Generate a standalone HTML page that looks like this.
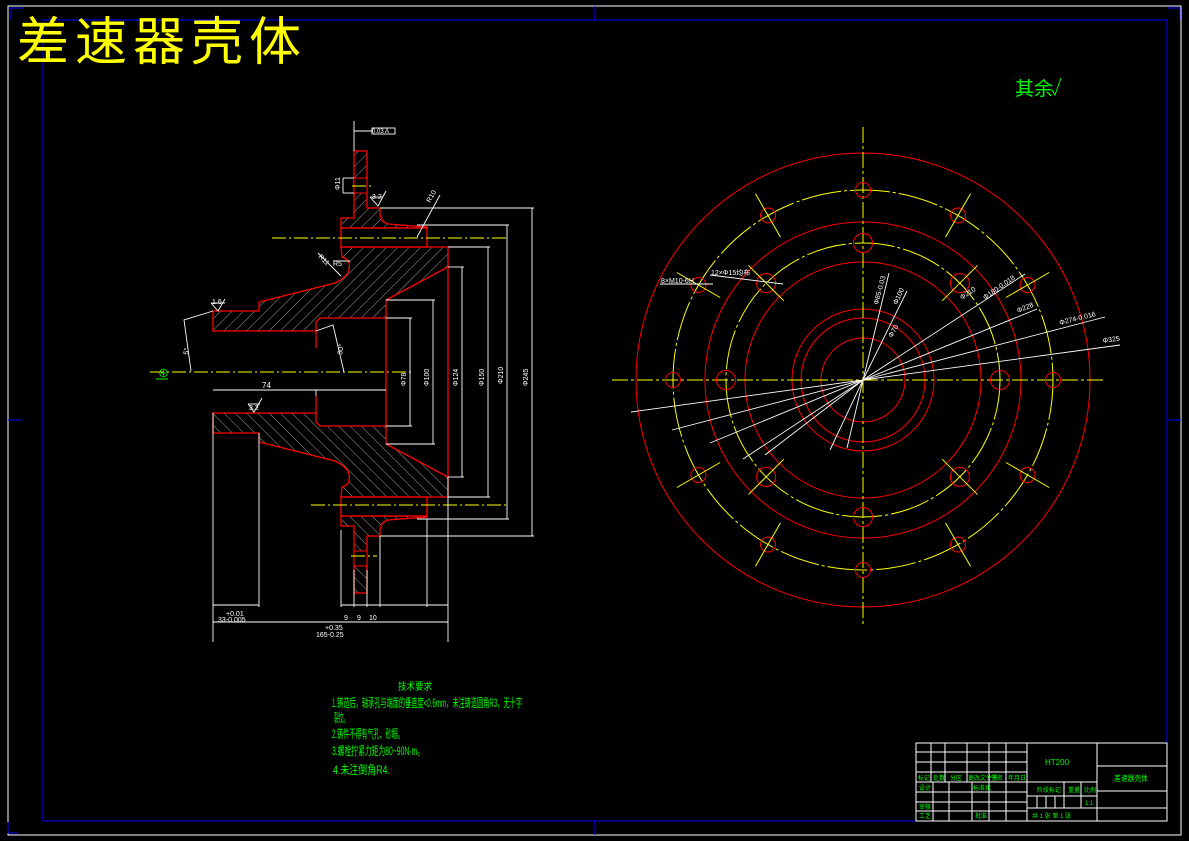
<!DOCTYPE html>
<html><head><meta charset="utf-8"><style>
html,body{margin:0;padding:0;background:#000;}
svg{display:block;}
text{font-family:"Liberation Sans","Noto Sans CJK SC",sans-serif;}
</style></head><body>
<svg width="1189" height="841" viewBox="0 0 1189 841" xmlns="http://www.w3.org/2000/svg">
<defs>
<pattern id="h" width="8" height="8" patternUnits="userSpaceOnUse" patternTransform="rotate(45)">
<line x1="0" y1="0" x2="0" y2="8" stroke="#ddd" stroke-width="0.7"/>
</pattern>
</defs>
<rect width="1189" height="841" fill="#000"/>
<!-- frames -->
<rect x="8" y="6" width="1173" height="829" fill="none" stroke="#fff" stroke-width="1"/>
<rect x="43" y="20" width="1124" height="801" fill="none" stroke="#00f" stroke-width="1"/>
<line x1="595" y1="6" x2="595" y2="20" stroke="#00f"/><line x1="595" y1="821" x2="595" y2="835" stroke="#00f"/>
<line x1="8" y1="420" x2="22" y2="420" stroke="#00f"/><line x1="1167" y1="420" x2="1181" y2="420" stroke="#00f"/>
<polyline points="10,20 10,8 23,8" fill="none" stroke="#00f"/>
<polyline points="1167,8 1180,8 1180,20" fill="none" stroke="#00f"/>
<polyline points="8,822 8,833 18,833" fill="none" stroke="#00f"/>

<text x="17" y="60" font-size="52" fill="#ff0" letter-spacing="6" font-family="'Liberation Sans','Noto Sans CJK SC',sans-serif">差速器壳体</text>
<text x="1015" y="95" font-size="19" fill="#0f0">其余</text>
<polyline points="1052,90 1055,95 1061,78" fill="none" stroke="#0f0"/>

<!-- ===== LEFT SECTION VIEW ===== -->
<g>
<path d="M341,247 L448,247 L448,267 L386,300 L386,318 L320,318 L316,322 L316,331 L213,331 L213,311 L259,311 L259,302 L335,283 Q352,275 349,263 Q347,258 342,257 Z" fill="url(#h)" stroke="#f00" stroke-width="1.3"/>
<path d="M354,151 L367,151 L367,208 L380,208 L380,214 Q381,222 388,224 L427,227 L427,228 L341,228 L341,218 L354,218 Z" fill="url(#h)" stroke="#f00" stroke-width="1.3"/>
<rect x="341" y="228" width="86" height="19" fill="#000" stroke="#f00" stroke-width="1.3"/>
<rect x="354.5" y="178.5" width="12" height="14" fill="#000"/>
<line x1="354" y1="178" x2="367" y2="178" stroke="#f00"/><line x1="354" y1="193" x2="367" y2="193" stroke="#f00"/>
</g>
<g transform="translate(0,744) scale(1,-1)">
<path d="M341,247 L448,247 L448,267 L386,300 L386,318 L320,318 L316,322 L316,331 L213,331 L213,311 L259,311 L259,302 L335,283 Q352,275 349,263 Q347,258 342,257 Z" fill="url(#h)" stroke="#f00" stroke-width="1.3"/>
<path d="M354,151 L367,151 L367,208 L380,208 L380,214 Q381,222 388,224 L427,227 L427,228 L341,228 L341,218 L354,218 Z" fill="url(#h)" stroke="#f00" stroke-width="1.3"/>
<rect x="341" y="228" width="86" height="19" fill="#000" stroke="#f00" stroke-width="1.3"/>
<rect x="354.5" y="178.5" width="12" height="14" fill="#000"/>
<line x1="354" y1="178" x2="367" y2="178" stroke="#f00"/><line x1="354" y1="193" x2="367" y2="193" stroke="#f00"/>
</g>
<g stroke="#f00" stroke-width="1.3">
<line x1="386" y1="318" x2="386" y2="426"/>
<line x1="448" y1="267" x2="448" y2="477"/>
<line x1="316" y1="331" x2="316" y2="348"/><line x1="316" y1="396" x2="316" y2="413"/>
</g>
<!-- centerlines -->
<g stroke="#ff0" stroke-width="1" stroke-dasharray="14,3,2,3">
<line x1="150" y1="372" x2="412" y2="372"/>
<line x1="272" y1="238" x2="506" y2="238"/>
<line x1="311" y1="505" x2="506" y2="505"/>
<line x1="352" y1="186" x2="373" y2="186"/>
<line x1="351" y1="556" x2="377" y2="556"/>
</g>
<text x="158" y="377" font-size="11" fill="#0f0">⊕</text>
<line x1="156" y1="379" x2="168" y2="379" stroke="#0f0"/>
<!-- dims white -->
<g stroke="#fff" stroke-width="0.9" fill="none">
<line x1="354" y1="121" x2="354" y2="151"/>
<line x1="354" y1="131" x2="372" y2="131"/>
<rect x="372" y="128" width="23" height="6"/>
<line x1="343" y1="178" x2="343" y2="193"/>
<line x1="343" y1="178" x2="354" y2="178"/><line x1="343" y1="193" x2="354" y2="193"/>
<line x1="410" y1="318" x2="410" y2="426"/><line x1="386" y1="318" x2="412" y2="318"/><line x1="386" y1="426" x2="412" y2="426"/>
<line x1="433" y1="300" x2="433" y2="444"/><line x1="386" y1="300" x2="435" y2="300"/><line x1="386" y1="444" x2="435" y2="444"/>
<line x1="462" y1="267" x2="462" y2="477"/><line x1="448" y1="267" x2="464" y2="267"/><line x1="448" y1="477" x2="464" y2="477"/>
<line x1="488" y1="247" x2="488" y2="497"/><line x1="448" y1="247" x2="490" y2="247"/><line x1="448" y1="497" x2="490" y2="497"/>
<line x1="507" y1="225" x2="507" y2="519"/><line x1="417" y1="225" x2="509" y2="225"/><line x1="417" y1="519" x2="509" y2="519"/>
<line x1="532" y1="208" x2="532" y2="536"/><line x1="380" y1="208" x2="534" y2="208"/><line x1="380" y1="536" x2="534" y2="536"/>
<line x1="213" y1="413" x2="213" y2="642"/>
<line x1="259" y1="433" x2="259" y2="607"/>
<line x1="341" y1="530" x2="341" y2="607"/>
<line x1="354" y1="570" x2="354" y2="607"/>
<line x1="367" y1="570" x2="367" y2="607"/>
<line x1="380" y1="536" x2="380" y2="607"/>
<line x1="427" y1="519" x2="427" y2="607"/>
<line x1="448" y1="477" x2="448" y2="642"/>
<line x1="213" y1="605" x2="259" y2="605"/>
<line x1="341" y1="605" x2="448" y2="605"/>
<line x1="213" y1="622" x2="448" y2="622"/>
<line x1="213" y1="390" x2="386" y2="390"/>
<line x1="316" y1="390" x2="316" y2="396"/>
<polyline points="213,311 184,320 191,371"/>
<polyline points="316,331 333,325 344,372"/>
<line x1="417" y1="237" x2="440" y2="195"/>
<line x1="341" y1="276" x2="318" y2="253"/>
<line x1="333" y1="261" x2="350" y2="261"/>
<polyline points="211,303 218,311 225,299"/><line x1="211" y1="303" x2="225" y2="303"/>
<polyline points="370,197 378,206 386,191"/><line x1="370" y1="197" x2="383" y2="197"/>
<polyline points="248,404 254,412 262,398"/><line x1="248" y1="404" x2="260" y2="404"/>
</g>
<g fill="#fff" font-size="7">
<text x="372" y="133" font-size="6">0.03 A</text>
<text x="212" y="304">1.6</text><text x="372" y="199">3.2</text><text x="249" y="410">3.2</text>
<text x="262" y="388" font-size="8">74</text>
<text x="430" y="203" transform="rotate(-60 430 203)">R10</text>
<text x="318" y="257" transform="rotate(45 318 257)">R11</text>
<text x="333" y="266">R5</text>
<text x="188" y="355" transform="rotate(-80 188 355)">5°</text>
<text x="342" y="355" transform="rotate(-80 342 355)">30°</text>
<text x="340" y="190" transform="rotate(-90 340 190)">Φ11</text>
<text x="406" y="386" transform="rotate(-90 406 386)">Φ78</text>
<text x="429" y="386" transform="rotate(-90 429 386)">Φ100</text>
<text x="458" y="386" transform="rotate(-90 458 386)">Φ124</text>
<text x="484" y="386" transform="rotate(-90 484 386)">Φ150</text>
<text x="503" y="384" transform="rotate(-90 503 384)">Φ210</text>
<text x="528" y="386" transform="rotate(-90 528 386)">Φ245</text>
<text x="226" y="616">+0.01</text><text x="218" y="622">33-0.005</text>
<text x="325" y="630">+0.35</text><text x="316" y="637">165-0.25</text>
<text x="344" y="620">9</text><text x="357" y="620">9</text><text x="369" y="620">10</text>
</g>

<!-- ===== RIGHT VIEW ===== -->
<g transform="translate(863,380)" fill="none" stroke-width="1">
<g stroke="#f00">
<circle r="227"/><circle r="158"/><circle r="118"/><circle r="71"/><circle r="62"/><circle r="42"/>
</g>
<g stroke="#ff0" stroke-dasharray="40,3,3,3"><circle r="190"/><circle r="137"/></g>
<g stroke="#ff0" stroke-dasharray="16,3,3,3">
<line x1="-251" y1="0" x2="240" y2="0"/><line x1="0" y1="-253" x2="0" y2="247"/>
</g>
<g stroke="#f00">
<circle cx="190" r="7.5"/><circle cx="-190" r="7.5"/><circle cy="190" r="7.5"/><circle cy="-190" r="7.5"/>
<circle cx="137" r="9.5"/><circle cx="-137" r="9.5"/><circle cy="137" r="9.5"/><circle cy="-137" r="9.5"/>
</g>
<g transform="rotate(30)"><circle cx="190" r="7.5" stroke="#f00"/><line x1="165" x2="215" stroke="#ff0"/></g>
<g transform="rotate(60)"><circle cx="190" r="7.5" stroke="#f00"/><line x1="165" x2="215" stroke="#ff0"/></g>
<g transform="rotate(120)"><circle cx="190" r="7.5" stroke="#f00"/><line x1="165" x2="215" stroke="#ff0"/></g>
<g transform="rotate(150)"><circle cx="190" r="7.5" stroke="#f00"/><line x1="165" x2="215" stroke="#ff0"/></g>
<g transform="rotate(210)"><circle cx="190" r="7.5" stroke="#f00"/><line x1="165" x2="215" stroke="#ff0"/></g>
<g transform="rotate(240)"><circle cx="190" r="7.5" stroke="#f00"/><line x1="165" x2="215" stroke="#ff0"/></g>
<g transform="rotate(300)"><circle cx="190" r="7.5" stroke="#f00"/><line x1="165" x2="215" stroke="#ff0"/></g>
<g transform="rotate(330)"><circle cx="190" r="7.5" stroke="#f00"/><line x1="165" x2="215" stroke="#ff0"/></g>
<g transform="rotate(45)"><circle cx="137" r="9.5" stroke="#f00"/><line x1="112" x2="162" stroke="#ff0"/></g>
<g transform="rotate(135)"><circle cx="137" r="9.5" stroke="#f00"/><line x1="112" x2="162" stroke="#ff0"/></g>
<g transform="rotate(225)"><circle cx="137" r="9.5" stroke="#f00"/><line x1="112" x2="162" stroke="#ff0"/></g>
<g transform="rotate(315)"><circle cx="137" r="9.5" stroke="#f00"/><line x1="112" x2="162" stroke="#ff0"/></g>
</g>
<g stroke="#fff" stroke-width="0.9">
<line x1="863" y1="380" x2="889" y2="273"/>
<line x1="863" y1="380" x2="907" y2="291"/>
<line x1="863" y1="380" x2="1025" y2="274"/>
<line x1="863" y1="380" x2="1037" y2="309"/>
<line x1="863" y1="380" x2="1105" y2="317"/>
<line x1="863" y1="380" x2="1120" y2="345"/>
<line x1="863" y1="380" x2="631" y2="412"/>
<line x1="863" y1="380" x2="672" y2="430"/>
<line x1="863" y1="380" x2="710" y2="443"/>
<line x1="863" y1="380" x2="743" y2="459"/>
<line x1="863" y1="380" x2="765" y2="455"/>
<line x1="863" y1="380" x2="830" y2="450"/>
<line x1="863" y1="380" x2="847" y2="448"/>
<line x1="710" y1="275" x2="783" y2="284"/>
<line x1="660" y1="284" x2="713" y2="284"/>
</g>
<g fill="#fff" font-size="7">
<text x="711" y="275">12×Φ15均布</text>
<text x="661" y="283">8×M10-6H</text>
<text x="878" y="305" transform="rotate(-75 878 305)">Φ85-0.03</text>
<text x="897" y="305" transform="rotate(-65 897 305)">Φ100</text>
<text x="892" y="338" transform="rotate(-60 892 338)">Φ70</text>
<text x="962" y="300" transform="rotate(-35 962 300)">Φ210</text>
<text x="985" y="300" transform="rotate(-35 985 300)">Φ180-0.018</text>
<text x="1018" y="313" transform="rotate(-22 1018 313)">Φ228</text>
<text x="1060" y="325" transform="rotate(-14 1060 325)">Φ274-0.016</text>
<text x="1103" y="343" transform="rotate(-8 1103 343)">Φ325</text>
</g>

<!-- tech requirements -->
<g fill="#0f0">
<text x="398" y="690" font-size="10" textLength="34" lengthAdjust="spacingAndGlyphs">技术要求</text>
<text x="332" y="707" font-size="12" textLength="190" lengthAdjust="spacingAndGlyphs">1.铸造后，轴承孔与端面的垂直度&lt;0.6mm，未注铸造圆角R3，无十字</text>
<text x="334" y="722" font-size="12" textLength="14" lengthAdjust="spacingAndGlyphs">裂纹。</text>
<text x="332" y="738" font-size="12" textLength="72" lengthAdjust="spacingAndGlyphs">2.铸件不得有气孔、砂眼。</text>
<text x="332" y="755" font-size="12" textLength="92" lengthAdjust="spacingAndGlyphs">3.螺栓拧紧力矩为80~90N·m。</text>
<text x="333" y="774" font-size="12" textLength="57" lengthAdjust="spacingAndGlyphs">4.未注倒角R4.</text>
</g>

<!-- title block -->
<g stroke="#fff" stroke-width="1" fill="none">
<rect x="916" y="743" width="251" height="78"/>
<line x1="1027" y1="743" x2="1027" y2="821"/>
<line x1="1097" y1="743" x2="1097" y2="821"/>
<line x1="916" y1="752" x2="1027" y2="752"/><line x1="916" y1="762" x2="1027" y2="762"/>
<line x1="916" y1="772" x2="1027" y2="772"/><line x1="916" y1="782" x2="1097" y2="782"/>
<line x1="916" y1="792" x2="1027" y2="792"/><line x1="916" y1="802" x2="1027" y2="802"/>
<line x1="916" y1="811" x2="1027" y2="811"/>
<line x1="931" y1="743" x2="931" y2="782"/><line x1="945" y1="743" x2="945" y2="782"/>
<line x1="967" y1="743" x2="967" y2="782"/><line x1="989" y1="743" x2="989" y2="821"/>
<line x1="1006" y1="743" x2="1006" y2="821"/>
<line x1="933" y1="782" x2="933" y2="821"/><line x1="949" y1="782" x2="949" y2="821"/>
<line x1="972" y1="782" x2="972" y2="821"/>
<line x1="1027" y1="796" x2="1097" y2="796"/><line x1="1027" y1="808" x2="1097" y2="808"/>
<line x1="1064" y1="782" x2="1064" y2="808"/><line x1="1081" y1="782" x2="1081" y2="808"/>
<line x1="1037" y1="796" x2="1037" y2="808"/><line x1="1046" y1="796" x2="1046" y2="808"/>
<line x1="1055" y1="796" x2="1055" y2="808"/>
<line x1="1097" y1="766" x2="1167" y2="766"/><line x1="1097" y1="791" x2="1167" y2="791"/>
<line x1="1097" y1="808" x2="1167" y2="808"/>
</g>
<g fill="#0f0" font-size="6">
<text x="1045" y="765" font-size="8">HT200</text>
<text x="1114" y="781" font-size="8" textLength="34" lengthAdjust="spacingAndGlyphs">差速器壳体</text>
<text x="918" y="780">标记</text><text x="933" y="780">处数</text><text x="950" y="780">分区</text>
<text x="968" y="780">更改文件号</text><text x="991" y="780">签名</text><text x="1008" y="780">年月日</text>
<text x="919" y="790">设计</text><text x="973" y="790">标准化</text>
<text x="919" y="809">审核</text><text x="919" y="818">工艺</text><text x="975" y="818">批准</text>
<text x="1037" y="792">阶段标记</text><text x="1068" y="792">重量</text><text x="1084" y="792">比例</text>
<text x="1085" y="805">1:1</text>
<text x="1032" y="818">共 1 张    第 1 张</text>
</g>
</svg>
</body></html>
